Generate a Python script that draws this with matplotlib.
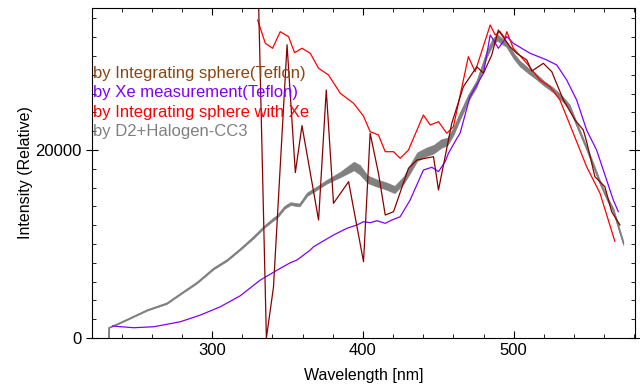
import matplotlib
matplotlib.use("Agg")
import matplotlib.pyplot as plt
import numpy as np
from matplotlib.ticker import MultipleLocator

plt.rcParams['font.family'] = ['Liberation Sans', 'DejaVu Sans']

# D2+Halogen-CC3 (noisy spectrum: centre value and half-width of the noise band)
gray_wl = [231.4, 231.5, 240, 257, 270, 279, 290, 301, 310, 319, 328, 335, 341, 343, 348, 352,
           358, 363, 370, 376, 385, 390, 394, 398, 403, 409, 415, 421, 427, 432, 436, 442,
           447, 452, 456, 460, 464, 470, 475.5, 482, 486, 489, 492, 495, 500, 504, 510, 515,
           520, 526, 532, 537, 542, 548, 553, 557, 562, 566, 569, 572.6]
gray_val = [0, 1100, 1700, 2980, 3700, 4700, 5900, 7400, 8300, 9500, 10800, 11900, 12700, 12900, 13900, 14300,
            14150, 15300, 16000, 16630, 17400, 17900, 18300, 17900, 16900, 16500, 16200, 15800, 16800, 18200, 19300, 19800,
            20100, 20700, 20900, 22000, 23500, 25600, 27100, 30200, 31500, 32000, 31600, 31300, 30000, 29200, 28400, 27800,
            27100, 26400, 25500, 24600, 22600, 20300, 18300, 16600, 14800, 13600, 12000, 10100]
gray_noise = [0, 30, 50, 60, 70, 70, 80, 90, 90, 90, 120, 120, 150, 150, 150, 150,
              150, 180, 180, 200, 280, 380, 450, 500, 400, 380, 380, 380, 380, 450, 450, 450,
              450, 450, 400, 400, 400, 350, 350, 350, 350, 350, 300, 300, 300, 300, 280, 280,
              250, 250, 250, 250, 220, 220, 220, 220, 220, 220, 220, 200]

# by Integrating sphere(Teflon)
sph_wl = [330.5, 336, 340.7, 349.7, 355.2, 359.6, 370.6, 375.7, 380.5, 390.5, 400.4, 404.8, 410.3,
          414.8, 420.3, 430.2, 435.8, 446.8, 450.1, 458.9, 466.6, 475.5, 479.9, 485.4, 489.8, 492,
          497.5, 501.9, 508.6, 512, 519.6, 525.2, 532.9, 540.6, 546.1, 548.3, 553.8, 560.4, 564.9, 570.4]
sph_val = [38000, 0, 5400, 31200, 17600, 22600, 12555, 26387, 14332, 16630, 8118, 21781, 17524,
           13087, 13440, 18056, 18939, 19291, 15747, 22844, 26739, 28866, 28164, 30111, 32771, 32239,
           30994, 30292, 29580, 28400, 29228, 28334, 25323, 23195, 22131, 20886, 17162, 16098, 13440, 12023]

# by Xe measurement(Teflon)
xe_wl = [234, 248, 261.4, 279, 292.3, 305.5, 318.7, 332, 345.2, 351.9, 356.3, 365.1, 367.3, 380.5,
         389.4, 396, 400.4, 404.8, 409.3, 414.8, 419.2, 424.7, 431.3, 440.1, 445.7, 450.1, 454.5,
         456.7, 462.3, 464.4, 471, 479.9, 484.4, 489.8, 495.4, 499.7, 510.8, 521.9, 528.5, 535.1,
         541.7, 548.3, 554.9, 566, 569.3]
xe_val = [1277, 1096, 1202, 1734, 2447, 3330, 4500, 6171, 7416, 8012, 8299, 9363, 9714, 10959,
          11672, 12023, 12374, 12268, 12480, 12204, 12555, 12906, 14683, 17875, 18163, 17701, 18758,
          19652, 21248, 21781, 25674, 28164, 32239, 30824, 32058, 31356, 30292, 29580, 29047, 27451,
          25323, 22131, 20003, 14683, 13440]

# by Integrating sphere with Xe
sxe_wl = [330.2, 335.3, 340.1, 345.2, 350.7, 354.7, 359.6, 365.1, 370.6, 377.2, 385, 393.8, 400.4,
          404.8, 410.3, 414.8, 420.3, 424.7, 430.2, 440.1, 444.6, 450.1, 455.6, 460, 469.9, 474.4,
          484.4, 487.7, 490.9, 494.2, 495.4, 499.7, 508.6, 517.4, 524, 530.6, 539.5, 548.3, 557.2, 567]
sxe_val = [33835, 31356, 30824, 32590, 32058, 30356, 30824, 30292, 28696, 27983, 26036, 24972, 23600,
           21951, 21599, 19823, 19823, 19120, 20003, 23727, 22663, 23015, 21781, 22485, 29931, 28334,
           33300, 32239, 32590, 31887, 32590, 30824, 29228, 27451, 26739, 25323, 21781, 18226, 15396, 10300]

labels = ["by Integrating sphere(Teflon)", "by Xe measurement(Teflon)",
          "by Integrating sphere with Xe", "by D2+Halogen-CC3"]
label_colors = ["#8b4513", "#8000ff", "#ff0000", "#808080"]

fig = plt.figure(figsize=(6.4, 3.85), dpi=100)
ax = fig.add_axes([0.144, 0.122, 0.848, 0.857])

g = np.array(gray_val)
n = np.array(gray_noise)
ax.fill_between(gray_wl, g - n, g + n, color="#808080", lw=0.5)
ax.plot(gray_wl, gray_val, color="#808080", lw=0.8)
ax.plot(xe_wl, xe_val, color="#8000ff", lw=0.9)
ax.plot(sxe_wl, sxe_val, color="#ff0000", lw=0.9)
ax.plot(sph_wl, sph_val, color="#8b0000", lw=0.9)

ax.set_xlim(220.5, 580.3)
ax.set_ylim(0, 35100)
ax.xaxis.set_major_locator(MultipleLocator(100))
ax.xaxis.set_minor_locator(MultipleLocator(20))
ax.yaxis.set_major_locator(MultipleLocator(20000))
ax.yaxis.set_minor_locator(MultipleLocator(2000))
ax.tick_params(which='both', direction='in', top=True, right=True, labelsize=12)
ax.tick_params(which='major', length=5)
ax.tick_params(which='minor', length=3)
ax.tick_params(axis='y', which='major', direction='inout', length=8)

ax.set_xlabel("Wavelength [nm]", fontsize=11.5, labelpad=7)
ax.set_ylabel("Intensity (Relative)", fontsize=11.5, labelpad=2)

ys = [0.803, 0.745, 0.685, 0.627]
for lab, c, y in zip(labels, label_colors, ys):
    ax.text(0.002, y, lab, color=c, fontsize=12, transform=ax.transAxes, va='center', ha='left')

fig.savefig("out.png", dpi=100)
